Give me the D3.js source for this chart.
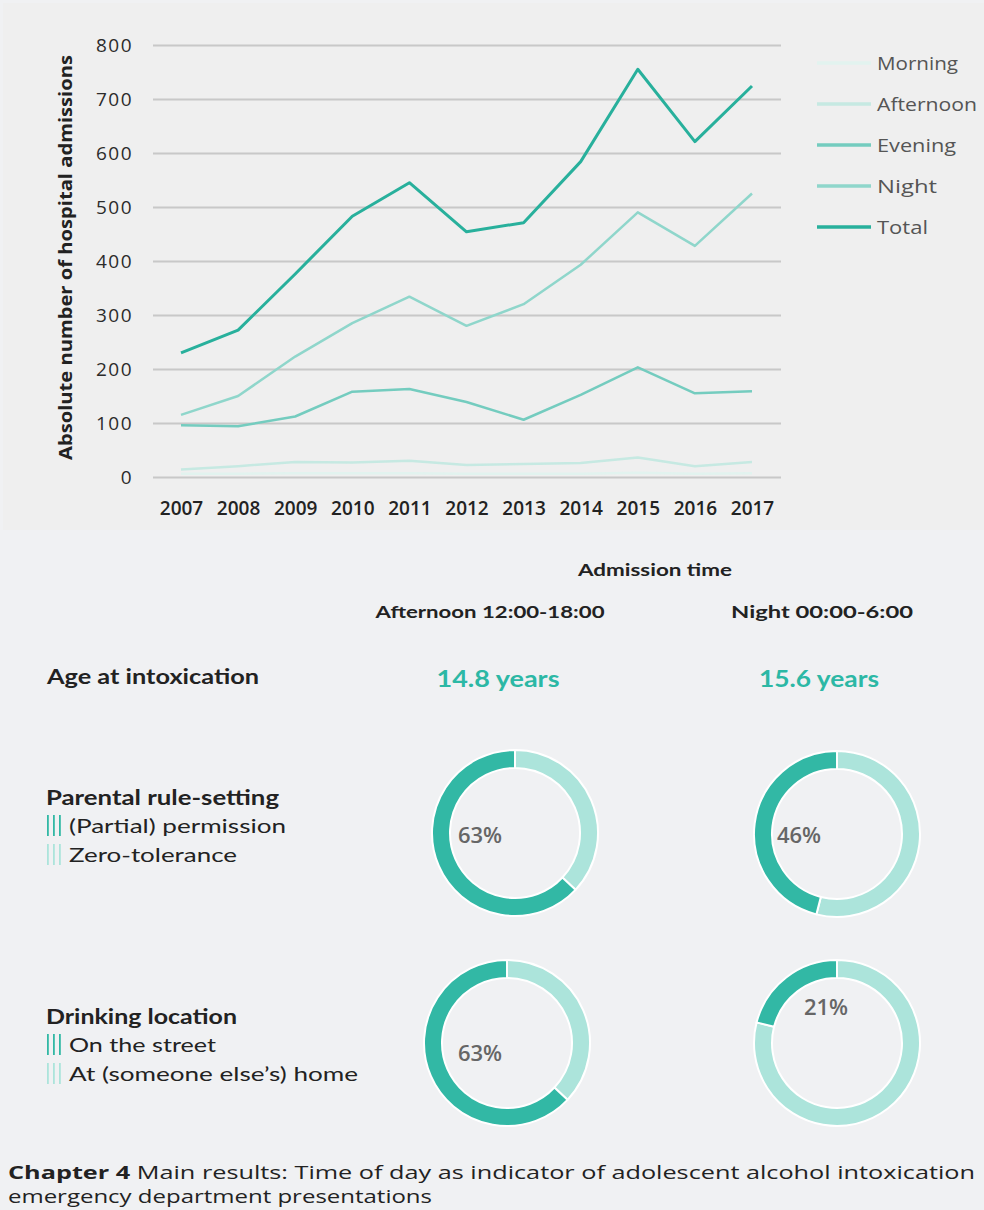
<!DOCTYPE html>
<html>
<head>
<meta charset="utf-8">
<script src="https://cdn.jsdelivr.net/npm/d3@7"></script>
<style>
  html, body { margin: 0; padding: 0; background: #f0f1f3; }
  svg { display: block; }
</style>
</head>
<body>
<svg id="fig" width="984" height="1210"></svg>
<script>
// ---- data ----
const years = [2007, 2008, 2009, 2010, 2011, 2012, 2013, 2014, 2015, 2016, 2017];
const morning   = [6, 6, 7, 7, 7, 6, 6, 6, 8, 6, 7];
const afternoon = [14, 20, 28, 27, 30, 22, 24, 26, 36, 20, 28];
const evening   = [96, 94, 112, 158, 163, 139, 106, 152, 203, 155, 159];
const night     = [115, 150, 223, 285, 334, 280, 320, 393, 490, 428, 525];
const total     = [230, 272, 376, 483, 545, 454, 471, 584, 755, 621, 724];
const seriesNames = ["Morning", "Afternoon", "Evening", "Night", "Total"];
const yTicks = [0, 100, 200, 300, 400, 500, 600, 700, 800];
const yTitle = "Absolute number of hospital admissions";

const admissionTitle = "Admission time";
const admissionTimes = ["Afternoon 12:00-18:00", "Night 00:00-6:00"];
const ageLabel = "Age at intoxication";
const ageYears = [14.8, 15.6];
const ruleTitle = "Parental rule-setting";
const ruleCategories = ["(Partial) permission", "Zero-tolerance"];
const rulePermission = [63, 46];
const locationTitle = "Drinking location";
const locationCategories = ["On the street", "At (someone else\u2019s) home"];
const locationStreet = [63, 21];
const captionBold = "Chapter 4";
const captionLine1 = "Main results: Time of day as indicator of adolescent alcohol intoxication";
const captionLine2 = "emergency department presentations";

// ---- styles ----
const lineColors = ["#e2f3ef", "#c6e9e2", "#74ccbf", "#8fd6cb", "#28b09c"];
const lineWidths = [2.5, 2.5, 2.5, 2.5, 3];
const darkTeal = "#32b8a5";
const lightTeal = "#ace4db";
const textDark = "#222";

const svg = d3.select("#fig");

// backgrounds
svg.append("rect").attr("x", 0).attr("y", 0).attr("width", 984).attr("height", 1210).attr("fill", "#f0f1f3");
svg.append("rect").attr("x", 3).attr("y", 3).attr("width", 981).attr("height", 527).attr("fill", "#efefef");

// ---- line chart ----
const x = d3.scaleLinear().domain([2007, 2017]).range([181, 752]);
const y = d3.scaleLinear().domain([0, 800]).range([477, 45]);
const gridLeft = 153, gridRight = 781;

const yAxis = svg.append("g")
  .attr("transform", `translate(${gridLeft},0)`)
  .call(d3.axisLeft(y).tickValues(yTicks).tickSize(-(gridRight - gridLeft)).tickPadding(20));
yAxis.select(".domain").remove();
yAxis.selectAll(".tick line").attr("stroke", "#c8c8c8").attr("stroke-width", 2);
yAxis.selectAll(".tick text")
  .attr("fill", "#2b2b2b")
  .style("font-family", "'Open Sans', sans-serif")
  .style("font-size", "19px")
  .style("letter-spacing", "1.5px");

const xAxis = svg.append("g")
  .attr("transform", `translate(0,${y(0)})`)
  .call(d3.axisBottom(x).tickValues(years).tickFormat(d3.format("d")).tickSize(0).tickPadding(25));
xAxis.select(".domain").remove();
xAxis.selectAll(".tick text")
  .attr("fill", "#222")
  .style("font-family", "'Open Sans', sans-serif")
  .style("font-size", "19px")
  .style("font-weight", "600");

svg.append("text")
  .attr("transform", `translate(72,${(55 + 460) / 2}) rotate(-90)`)
  .attr("text-anchor", "middle")
  .attr("fill", "#222")
  .attr("textLength", 405)
  .attr("lengthAdjust", "spacingAndGlyphs")
  .style("font-family", "'Open Sans', sans-serif")
  .style("font-size", "18px")
  .style("font-weight", "700")
  .text(yTitle);

const seriesValues = [morning, afternoon, evening, night, total];
const line = d3.line().x(d => x(d.year)).y(d => y(d.value));
seriesValues.forEach((vals, i) => {
  const pts = years.map((yr, j) => ({ year: yr, value: vals[j] }));
  svg.append("path")
    .datum(pts)
    .attr("fill", "none")
    .attr("stroke", lineColors[i])
    .attr("stroke-width", lineWidths[i])
    .attr("stroke-linejoin", "round")
    .attr("d", line);
});

// legend
const legend = svg.append("g");
const legendWidths = [81, 100, 79, 60, 51];
seriesNames.forEach((name, i) => {
  const ly = 63 + i * 41;
  legend.append("line")
    .attr("x1", 817).attr("x2", 871).attr("y1", ly).attr("y2", ly)
    .attr("stroke", lineColors[i]).attr("stroke-width", 3.5);
  legend.append("text")
    .attr("x", 877).attr("y", ly).attr("dy", "0.35em")
    .attr("fill", "#555")
    .attr("textLength", legendWidths[i])
    .attr("lengthAdjust", "spacingAndGlyphs")
    .style("font-family", "'Open Sans', sans-serif")
    .style("font-size", "19px")
    .text(name);
});

// ---- summary panel ----
const font2 = "Lato, 'Open Sans', sans-serif";
function label(txt, xx, yy, opts) {
  const t = svg.append("text")
    .attr("x", xx).attr("y", yy)
    .attr("text-anchor", opts.anchor || "start")
    .attr("fill", opts.fill || textDark)
    .style("font-family", opts.family || font2)
    .style("font-size", opts.size + "px")
    .style("font-weight", opts.weight || 400)
    .text(txt);
  if (opts.width) t.attr("textLength", opts.width).attr("lengthAdjust", "spacingAndGlyphs");
  return t;
}

const colX = [490, 822];
label(admissionTitle, 655, 576, { anchor: "middle", size: 17, weight: 700, width: 154 });
admissionTimes.forEach((t, i) => label(t, colX[i], 618, { anchor: "middle", size: 17, weight: 700, width: i === 0 ? 229 : 182 }));
label(ageLabel, 47, 684, { size: 20, weight: 700, width: 212 });
ageYears.forEach((v, i) => label(`${v} years`, [498, 819][i], 687, { anchor: "middle", size: 23, weight: 700, fill: "#2cb8a5", width: [123, 120][i] }));

// category blocks with bar markers
function catBlock(title, cats, titleY, widths) {
  label(title, 46, titleY, { size: 20, weight: 700, width: widths[0] });
  cats.forEach((c, i) => {
    const by = titleY + 28 + i * 29;
    const col = i === 0 ? darkTeal : lightTeal;
    [47, 53, 59].forEach(bx => {
      svg.append("rect").attr("x", bx).attr("y", by - 18).attr("width", 1.8).attr("height", 21).attr("fill", col);
    });
    label(c, 69, by, { size: 20, weight: 400, width: widths[i + 1] });
  });
}
catBlock(ruleTitle, ruleCategories, 805, [233, 217, 168]);
catBlock(locationTitle, locationCategories, 1024, [191, 147, 289]);

// donuts
const donutCenters = [
  [[515, 833], [837, 834]],
  [[507, 1043], [837, 1043]]
];
const labelOffsets = [
  [[-35, 2], [-38, 1]],
  [[-27, 10], [-11, -36]]
];
const arc = d3.arc().innerRadius(65).outerRadius(83);
const pie = d3.pie().sort(null).value(d => d.v);
[rulePermission, locationStreet].forEach((row, r) => {
  row.forEach((pct, c) => {
    const [cx, cy] = donutCenters[r][c];
    const g = svg.append("g").attr("transform", `translate(${cx},${cy})`);
    const parts = [{ v: 100 - pct, col: lightTeal }, { v: pct, col: darkTeal }];
    g.selectAll("path").data(pie(parts)).join("path")
      .attr("d", arc)
      .attr("fill", d => d.data.col)
      .attr("stroke", "#fff")
      .attr("stroke-width", 2);
    const [ox, oy] = labelOffsets[r][c];
    g.append("text")
      .attr("x", ox).attr("y", oy).attr("dy", "0.35em")
      .attr("text-anchor", "middle")
      .attr("fill", "#666")
      .style("font-family", "'Open Sans', sans-serif")
      .style("font-size", "22px")
      .style("font-weight", 600)
      .text(`${pct}%`);
  });
});

// caption, first line stretched to the full text width
const cap1 = svg.append("text").attr("x", 8).attr("y", 1179)
  .attr("fill", "#222")
  .attr("textLength", 967)
  .attr("lengthAdjust", "spacingAndGlyphs")
  .style("font-family", "'Open Sans', sans-serif")
  .style("font-size", "17.5px");
cap1.append("tspan").style("font-weight", 700).text(captionBold + " ");
cap1.append("tspan").text(captionLine1);
svg.append("text").attr("x", 8).attr("y", 1203)
  .attr("fill", "#222")
  .attr("textLength", 424)
  .attr("lengthAdjust", "spacingAndGlyphs")
  .style("font-family", "'Open Sans', sans-serif")
  .style("font-size", "17.5px")
  .text(captionLine2);
</script>
</body>
</html>
